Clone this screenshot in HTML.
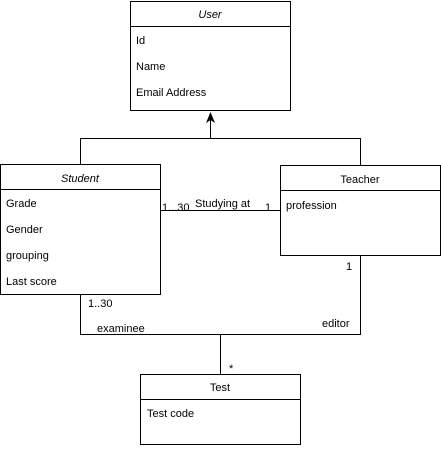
<!DOCTYPE html>
<html><head><meta charset="utf-8"><style>
html,body{margin:0;padding:0;background:#fff;}
svg text{font-family:"Liberation Sans",Arial,sans-serif;font-size:11px;fill:#000;}
</style></head><body>
<svg width="441" height="445" viewBox="0 0 441 445" xmlns="http://www.w3.org/2000/svg">
<g fill="none" stroke="#000" stroke-width="1">
<rect x="130.5" y="1.5" width="160" height="109"/>
<line x1="130" y1="26.5" x2="291" y2="26.5"/>
<rect x="0.5" y="164.5" width="160" height="130"/>
<line x1="0" y1="189.5" x2="161" y2="189.5"/>
<rect x="280.5" y="165.5" width="160" height="90"/>
<line x1="280" y1="190.5" x2="441" y2="190.5"/>
<rect x="140.5" y="374.5" width="160" height="70"/>
<line x1="140" y1="399.5" x2="301" y2="399.5"/>
<polyline points="80.5,164 80.5,138.5 360.5,138.5 360.5,165"/>
<line x1="210.5" y1="138" x2="210.5" y2="120"/>
<line x1="160" y1="210.5" x2="280" y2="210.5"/>
<polyline points="80.5,294 80.5,334.5 360.5,334.5 360.5,255"/>
<line x1="220.5" y1="334" x2="220.5" y2="374"/>
</g>
<polygon points="210.5,112 206,123 210.5,120 215,123" fill="#000"/>
<text x="210" y="18" text-anchor="middle" font-style="italic" fill="#333">User</text>
<text x="136" y="44">Id</text>
<text x="136" y="70">Name</text>
<text x="136" y="96">Email Address</text>
<text x="80" y="182" text-anchor="middle" font-style="italic">Student</text>
<text x="6" y="207">Grade</text>
<text x="6" y="233">Gender</text>
<text x="6" y="259">grouping</text>
<text x="6" y="285">Last score</text>
<text x="360" y="183" text-anchor="middle">Teacher</text>
<text x="286" y="209">profession</text>
<text x="162" y="211">1...30</text>
<text x="195" y="207">Studying at</text>
<text x="265" y="211">1</text>
<text x="346" y="270">1</text>
<text x="88" y="307">1..30</text>
<text x="97" y="332">examinee</text>
<text x="322" y="327">editor</text>
<text x="229" y="372" font-size="13px">*</text>
<text x="220" y="391" text-anchor="middle">Test</text>
<text x="147" y="417">Test code</text>
</svg>
</body></html>
